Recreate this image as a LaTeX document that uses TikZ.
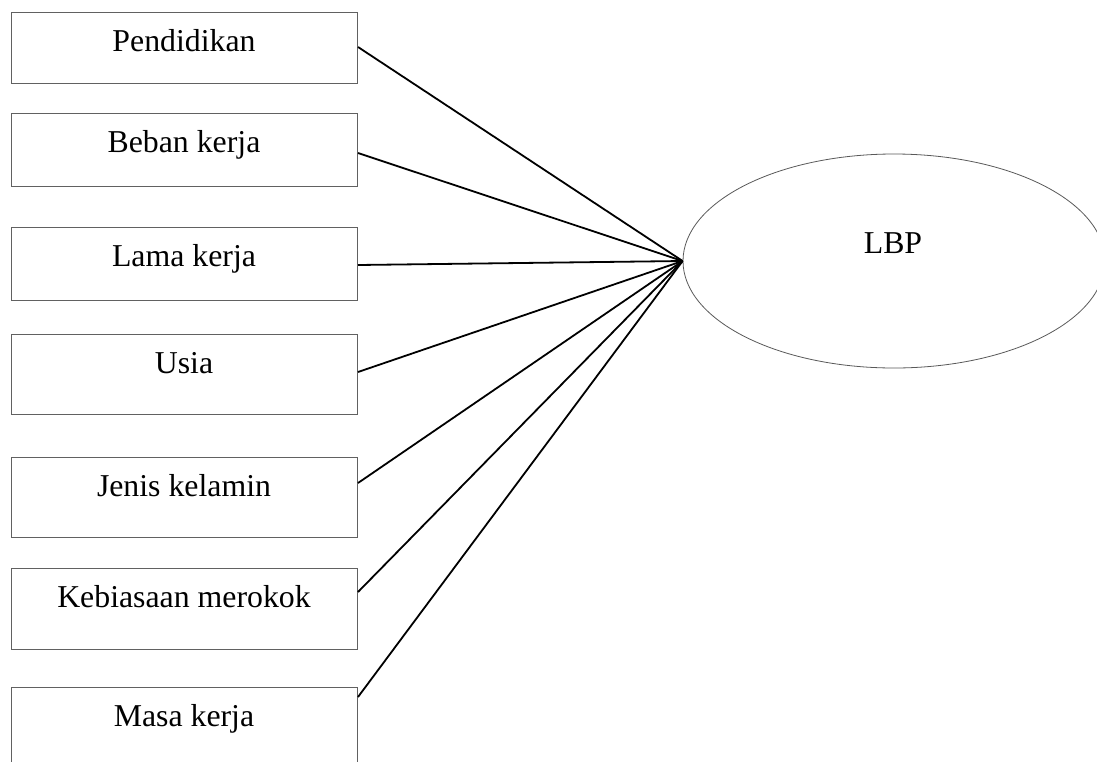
\documentclass[tikz,border=0pt]{standalone}
\usepackage{fontspec}
\setmainfont{Liberation Serif}
\usetikzlibrary{shapes.geometric}
\begin{document}
\begin{tikzpicture}[x=1pt,y=-1pt,
  varbox/.style={draw=black!62,line width=1pt,rectangle,minimum width=346pt,anchor=north west,inner sep=0pt},
  lbl/.style={anchor=base,inner sep=0pt,font=\fontsize{31.8}{38}\selectfont},
  link/.style={draw=black,line width=1.8pt}]
\clip (0,0) rectangle (1097,761);
\fill[white] (0,0) rectangle (1097,761);
% boxes
\node[varbox,minimum height=71pt] (b1) at (11,12) {};
\node[varbox,minimum height=73pt] (b2) at (11,113) {};
\node[varbox,minimum height=73pt] (b3) at (11,227) {};
\node[varbox,minimum height=80pt] (b4) at (11,334) {};
\node[varbox,minimum height=80pt] (b5) at (11,457) {};
\node[varbox,minimum height=81pt] (b6) at (11,568) {};
\node[varbox,minimum height=100pt] (b7) at (11,687) {};
% labels
\node[lbl] (t1) at (184,51) {Pendidikan};
\node[lbl] (t2) at (184,152) {Beban kerja};
\node[lbl] (t3) at (184,266) {Lama kerja};
\node[lbl] (t4) at (184,373) {Usia};
\node[lbl] (t5) at (184,496) {Jenis kelamin};
\node[lbl] (t6) at (184,607) {Kebiasaan merokok};
\node[lbl] (t7) at (184,726) {Masa kerja};
% ellipse
\node[draw=black!65,line width=0.8pt,ellipse,minimum width=422pt,minimum height=214pt,inner sep=0pt] (L) at (894,261) {};
\node[lbl] (tl) at (893,253) {LBP};
% connectors
\draw[link] ([yshift=-35pt]b1.north east) -- (L.west);
\draw[link] ([yshift=-40pt]b2.north east) -- (L.west);
\draw[link] ([yshift=-38pt]b3.north east) -- (L.west);
\draw[link] ([yshift=-38pt]b4.north east) -- (L.west);
\draw[link] ([yshift=-26pt]b5.north east) -- (L.west);
\draw[link] ([yshift=-24pt]b6.north east) -- (L.west);
\draw[link] ([yshift=-10pt]b7.north east) -- (L.west);
\end{tikzpicture}
\end{document}
